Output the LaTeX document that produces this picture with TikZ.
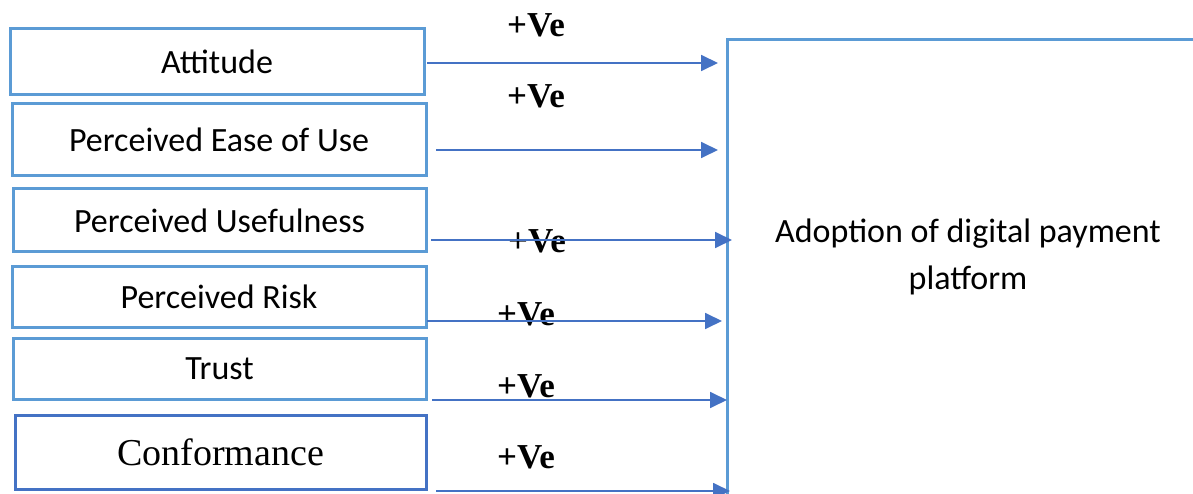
\documentclass[tikz,border=0pt]{standalone}
\usepackage{fontspec}
\setmainfont{Liberation Serif}
\newfontfamily\calib{Carlito}
\usepackage{tikz}
\usetikzlibrary{arrows.meta}
\definecolor{boxblue}{HTML}{5B9BD5}
\definecolor{darkblue}{HTML}{4472C4}

\begin{document}
\begin{tikzpicture}[x=1pt, y=-1pt,
        factor/.style={draw=boxblue, line width=3pt, align=center, inner sep=0pt,
                font=\calib\fontsize{34}{41}\selectfont},
        outcome/.style={draw=boxblue, line width=3pt, anchor=north west, inner sep=0pt},
        sign/.style={font=\bfseries\fontsize{35}{40}\selectfont, anchor=base, inner sep=0pt},
        arr/.style={draw=darkblue, line width=1.8pt, -{Triangle[length=17pt, width=16pt]}}]
        \clip (0,0) rectangle (1193,494);
        \useasboundingbox (0,0) rectangle (1193,494);

        % the big box on the right, cut off by the page edge
        \node[outcome, minimum width=484pt, minimum height=456pt] (adopt) at (726,38) {};
        \node[font=\calib\fontsize{34}{47}\selectfont, align=center] (adopttxt) at (968,257)
                {Adoption of digital payment\\platform};

        % factors
        \node[factor, minimum width=414pt, minimum height=66pt] (att) at (217,62) {\raisebox{-3pt}{Attitude}};
        \node[factor, minimum width=414pt, minimum height=72pt] (peou) at (219,140) {Perceived Ease of Use};
        \node[factor, minimum width=413pt, minimum height=63pt] (pu) at (219.5,220.5) {Perceived Usefulness};
        \node[factor, minimum width=414pt, minimum height=61pt] (pr) at (219,296.5) {Perceived Risk};
        \node[factor, minimum width=413pt, minimum height=61pt] (trust) at (219.5,368.5) {\raisebox{-3pt}{Trust}};
        \node[factor, draw=darkblue, font=\fontsize{38}{44}\selectfont,
                minimum width=411pt, minimum height=74pt] (conf) at (220.5,452) {Conformance};

        % signs
        \node[sign] (v1) at (536,37) {+Ve};
        \node[sign] (v2) at (536,108) {+Ve};
        \node[sign] (v3) at (537,253) {+Ve};
        \node[sign] (v4) at (526,325) {+Ve};
        \node[sign] (v5) at (526,397) {+Ve};
        \node[sign] (v6) at (526,468) {+Ve};

        % arrow ends
        \coordinate (s1) at (427,63);  \coordinate (e1) at (718,63);
        \coordinate (s2) at (436,150); \coordinate (e2) at (718,150);
        \coordinate (s3) at (431,240); \coordinate (e3) at (732,240);
        \coordinate (s4) at (427,321); \coordinate (e4) at (722,321);
        \coordinate (s5) at (432,400); \coordinate (e5) at (727,400);
        \coordinate (s6) at (436,491); \coordinate (e6) at (730,491);

        \draw[arr] (s1) -- (e1);
        \draw[arr] (s2) -- (e2);
        \draw[arr] (s3) -- (e3);
        \draw[arr] (s4) -- (e4);
        \draw[arr] (s5) -- (e5);
        \draw[arr] (s6) -- (e6);
\end{tikzpicture}
\end{document}
